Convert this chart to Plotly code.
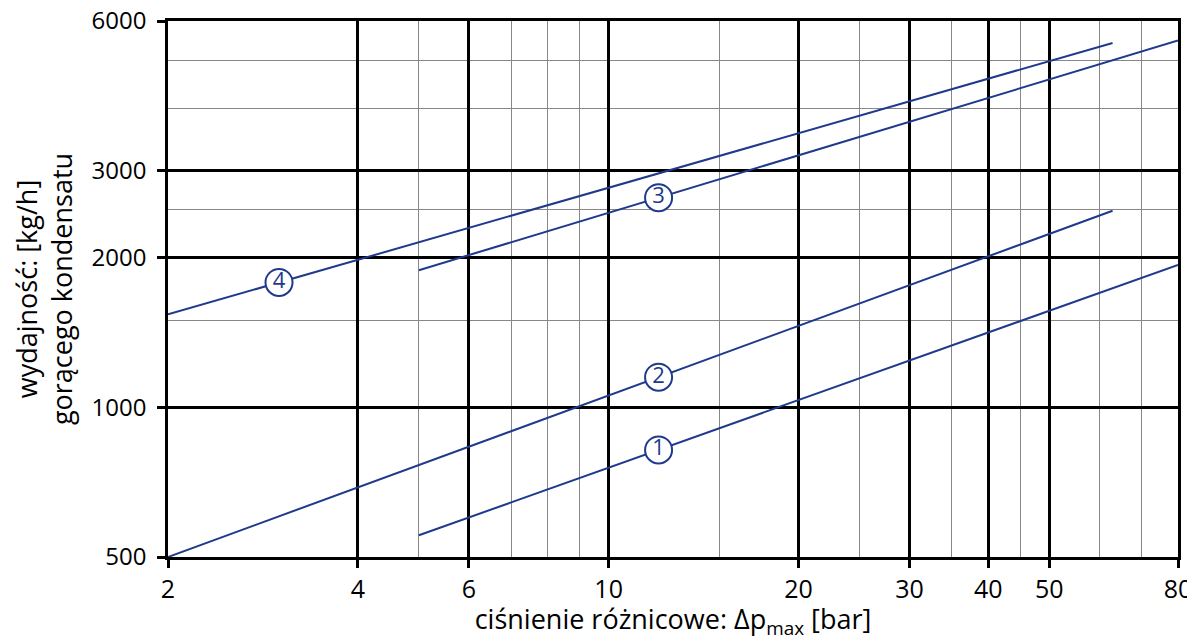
import math
import plotly.graph_objects as go

# ---- data ----
series_names = ["1", "2", "3", "4"]
series_x = [[5, 80], [2, 63], [5, 80], [2, 63]]
series_y = [[553, 1937], [500, 2490], [1890, 5480], [1540, 5420]]
label_x = [12, 12, 12, 3]

x_major = [2, 4, 6, 10, 20, 30, 40, 50, 80]
x_minor = [5, 7, 8, 9, 15, 25, 35, 45, 60, 70]
y_major = [500, 1000, 2000, 3000, 6000]
y_minor = [1500, 2500, 4000, 5000]

LINE_COLOR = "#1f3a8c"
FONT = "Open Sans"

# page body has an 8px margin -> figure is a little smaller
W, H = 1187, 633
ML, MR, MT, MB = 160, 17, 13, 84
XR = [math.log10(2), math.log10(80)]
YR = [math.log10(500), math.log10(6000)]

fig = go.Figure()
for name, xs, ys in zip(series_names, series_x, series_y):
    fig.add_trace(go.Scatter(x=xs, y=ys, mode="lines", name=name,
                             line=dict(color=LINE_COLOR, width=2),
                             showlegend=False, hoverinfo="skip"))

# circled labels sitting on each line (position on the power-law line)
lab_x, lab_y = [], []
for xs, ys, lx in zip(series_x, series_y, label_x):
    lx0, lx1 = math.log10(xs[0]), math.log10(xs[1])
    ly0, ly1 = math.log10(ys[0]), math.log10(ys[1])
    t = (math.log10(lx) - lx0) / (lx1 - lx0)
    lab_x.append(lx)
    lab_y.append(10 ** (ly0 + t * (ly1 - ly0)))

fig.add_trace(go.Scatter(
    x=lab_x, y=lab_y, mode="markers+text", text=series_names,
    textposition="middle center",
    textfont=dict(family=FONT, size=22, color=LINE_COLOR),
    marker=dict(symbol="circle", size=27, color="white",
                line=dict(color=LINE_COLOR, width=2)),
    showlegend=False, hoverinfo="skip", cliponaxis=False))

fig.update_layout(
    width=W, height=H,
    margin=dict(l=ML, r=MR, t=MT, b=MB),
    paper_bgcolor="white", plot_bgcolor="white",
    font=dict(family=FONT, color="black"),
)

fig.update_xaxes(
    type="log", range=XR,
    tickvals=x_major, ticktext=[str(v) for v in x_major],
    tickfont=dict(family=FONT, size=25, color="black"),
    ticklabeloverflow="allow",
    ticks="outside", ticklen=8, tickwidth=2.5, tickcolor="black",
    showgrid=True, gridcolor="black", gridwidth=2.5,
    minor=dict(tickvals=x_minor, showgrid=True, gridcolor="#888888",
               gridwidth=1, ticks=""),
    showline=True, linecolor="black", linewidth=2.5, mirror=True,
    zeroline=False, automargin=False,
    title=dict(text="ciśnienie różnicowe: Δp<sub>max</sub> [bar]",
               font=dict(family=FONT, size=27, color="black"), standoff=10),
)

fig.update_yaxes(
    type="log", range=YR,
    tickvals=y_major, ticktext=[str(v) for v in y_major],
    tickfont=dict(family=FONT, size=24, color="black"),
    ticklabeloverflow="allow",
    ticks="outside", ticklen=8, tickwidth=2.5, tickcolor="black",
    ticklabelstandoff=6,
    showgrid=True, gridcolor="black", gridwidth=2.5,
    minor=dict(tickvals=y_minor, showgrid=True, gridcolor="#888888",
               gridwidth=1, ticks=""),
    showline=True, linecolor="black", linewidth=2.5, mirror=True,
    zeroline=False, automargin=False,
    title=dict(text="wydajność: [kg/h]<br>gorącego kondensatu",
               font=dict(family=FONT, size=27, color="black"), standoff=14),
)

fig.write_html("out.html")
